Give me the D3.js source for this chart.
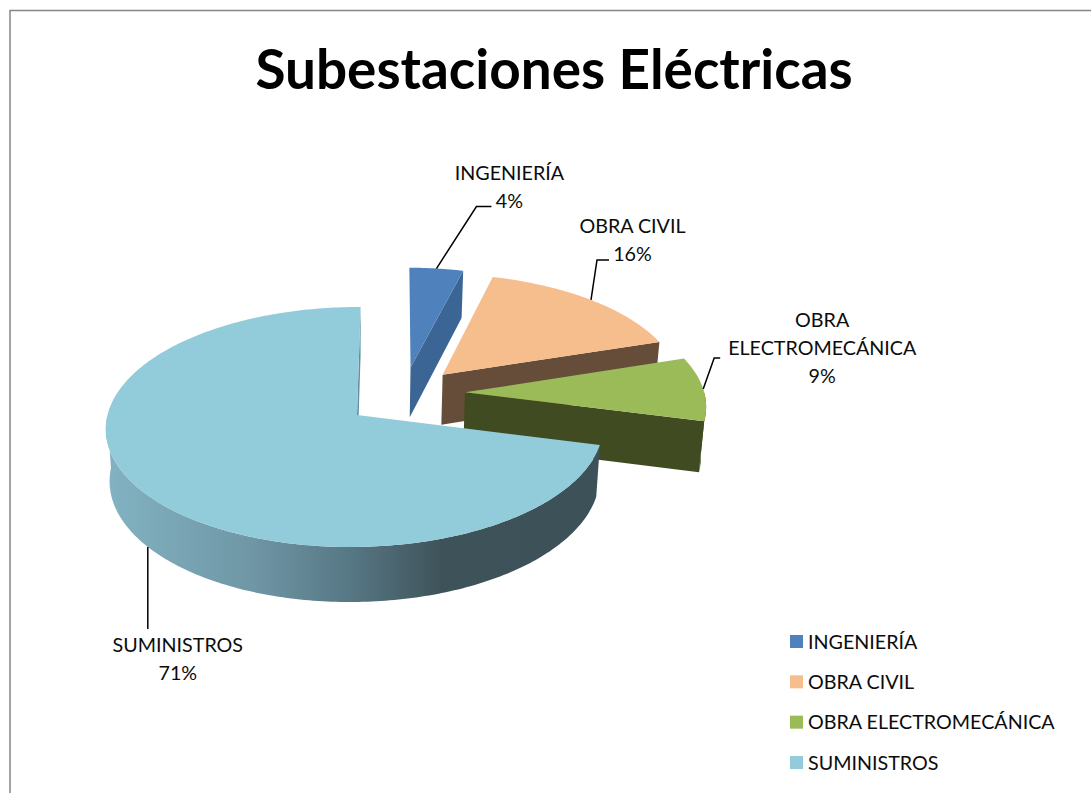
<!DOCTYPE html>
<html lang="es">
<head>
<meta charset="utf-8">
<script src="https://cdn.jsdelivr.net/npm/d3@7"></script>
<style>
  html, body { margin: 0; background: #fff; }
  svg { display: block; }
  text { font-family: Lato, "Open Sans", sans-serif; fill: #0c0c0c; }
</style>
</head>
<body>
<div id="chart"></div>
<script>
// Chart content
const title = "Subestaciones Eléctricas";
const categories = ["INGENIERÍA", "OBRA CIVIL", "OBRA ELECTROMECÁNICA", "SUMINISTROS"];
const percentages = [4, 16, 9, 71];
const topColors = ["#4f81bd", "#f6bd8d", "#9bbb59", "#92cbd9"];
const wallColors = ["#3a6595", "#654d39", "#414b21", "#5f8f9c"];
const labelLines = [["INGENIERÍA"], ["OBRA CIVIL"], ["OBRA", "ELECTROMECÁNICA"], ["SUMINISTROS"]];

// Layout of the tilted disk
const width = 1091, height = 793;
const disk = { cx: 357, cy: 415, ax: 247.5, ay: 118.8, shear: 4, perspY: 0.1, perspX: 0.008, depth: 51.3, shrink: 0.985 };
// How far each slice is pulled out of the disk, in disk radii
const explode = [[0.219, 0.418], [0.3535, 0.352], [0.4434, 0.195], [0, 0]];
// Leader elbows and label anchors, relative to the slice edge point
const leaders = [
  { bottom: false, path: [[40, -62], [55, -62]], label: [73, -89] },
  { bottom: false, path: [[6, -40], [18, -40]], label: [41.5, -67] },
  { bottom: false, path: [[11, -31], [17, -31]], label: [119, -61.5] },
  { bottom: true, path: [[0, 82]], label: [30, 105] }
];
const labelLeading = 28;

const svg = d3.select("#chart").append("svg")
  .attr("width", width).attr("height", height);

// Chart-area frame, open at the right and bottom of the page
svg.append("path")
  .attr("d", `M10,${height}V10.5H${width}`)
  .attr("fill", "none").attr("stroke", "#868686").attr("stroke-width", 1.5);

svg.append("text")
  .attr("x", 554).attr("y", 88.5)
  .attr("text-anchor", "middle")
  .attr("font-size", 54.9).attr("font-weight", 700)
  .style("fill", "#000")
  .text(title);

const defs = svg.append("defs");
const sideGradient = defs.append("linearGradient")
  .attr("id", "side-suministros")
  .attr("gradientUnits", "userSpaceOnUse")
  .attr("x1", 106).attr("x2", 600).attr("y1", 0).attr("y2", 0);
[[0, "#82b3c2"], [0.3, "#6f96a5"], [0.5, "#567683"], [0.68, "#3e5359"], [1, "#3c5158"]]
  .forEach(([o, c]) => sideGradient.append("stop").attr("offset", o).attr("stop-color", c));

// Perspective projection of a disk point; z = 1 is the underside of the disk
function project(x, y, z) {
  const w = 1 + disk.perspY * y + disk.perspX * x;
  const k = z ? disk.shrink : 1;
  return [
    disk.cx + k * (disk.ax * x + disk.shear * y) / w,
    disk.cy + k * (-disk.ay * y) / w + (z ? disk.depth / w : 0)
  ];
}

const slices = d3.pie().value(d => d).sort(null)(percentages);
const rim = (i, a, z) => project(
  explode[i][0] + Math.sin(a), explode[i][1] + Math.cos(a), z);
const apex = (i, z) => project(explode[i][0], explode[i][1], z);
const arcAngles = s => {
  const n = Math.max(2, Math.ceil((s.endAngle - s.startAngle) * 60));
  return d3.range(n + 1).map(j => s.startAngle + (s.endAngle - s.startAngle) * j / n);
};
const polygon = d3.line().curve(d3.curveLinearClosed);

const pieGroup = svg.append("g");
slices.forEach((s, i) => {
  const g = pieGroup.append("g").attr("class", "slice");
  const angles = arcAngles(s);
  // Only the part of the rim past the widest point faces the viewer
  const facing = angles.filter(a => Math.cos(a) < 0);
  const wall = wallColors[i];
  const isBig = i === slices.length - 1;
  const radialWall = a => polygon([apex(i, 0), rim(i, a, 0), rim(i, a, 1), apex(i, 1)]);

  // Radial wall on the far cut of the big slice
  if (isBig) g.append("path").attr("d", radialWall(s.endAngle)).attr("fill", wall);
  // Curved outer wall
  if (facing.length > 1) {
    g.append("path")
      .attr("d", polygon([
        ...facing.map(a => rim(i, a, 0)),
        ...facing.slice().reverse().map(a => rim(i, a, 1))
      ]))
      .attr("fill", isBig ? "url(#side-suministros)" : wall);
  }
  // Radial wall facing the viewer on the exploded slices
  if (!isBig) g.append("path").attr("d", radialWall(s.endAngle)).attr("fill", wall);
  // Top face
  g.append("path")
    .attr("d", polygon([apex(i, 0), ...angles.map(a => rim(i, a, 0))]))
    .attr("fill", topColors[i]);
});

// Leader lines and data labels
const leaderLine = d3.line();
slices.forEach((s, i) => {
  const mid = (s.startAngle + s.endAngle) / 2;
  const cfg = leaders[i];
  const p = rim(i, mid, cfg.bottom ? 1 : 0);
  svg.append("path")
    .attr("d", leaderLine([p, ...cfg.path.map(o => [p[0] + o[0], p[1] + o[1]])]))
    .attr("fill", "none").attr("stroke", "#000").attr("stroke-width", 1.5);
  const lines = [...labelLines[i], `${percentages[i]}%`];
  const t = svg.append("text")
    .attr("text-anchor", "middle")
    .attr("font-size", 19.7);
  lines.forEach((line, j) => {
    t.append("tspan")
      .attr("x", p[0] + cfg.label[0])
      .attr("y", p[1] + cfg.label[1] + j * labelLeading)
      .text(line);
  });
});

// Legend
const legendY = d3.scalePoint().domain(categories).range([641.5, 762.5]);
const legendColor = d3.scaleOrdinal().domain(categories).range(topColors);
const legend = svg.append("g").selectAll("g").data(categories).join("g")
  .attr("transform", d => `translate(790,${legendY(d)})`);
legend.append("rect")
  .attr("x", 0).attr("y", -6.5).attr("width", 13).attr("height", 13)
  .attr("fill", d => legendColor(d));
legend.append("text")
  .attr("x", 18).attr("y", 7)
  .attr("font-size", 19.7)
  .text(d => d);
</script>
</body>
</html>
